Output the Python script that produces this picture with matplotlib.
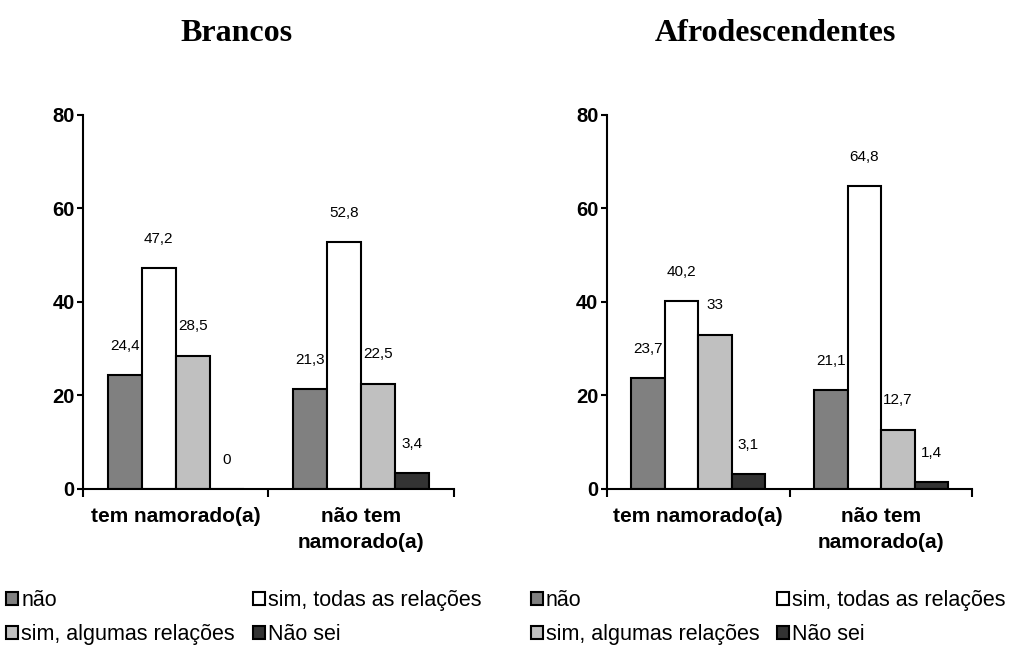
import matplotlib
matplotlib.use('Agg')
import matplotlib.pyplot as plt
import numpy as np

plt.rcParams['font.family'] = ['Liberation Sans', 'DejaVu Sans']

categories = ['tem namorado(a)', 'não tem\nnamorado(a)']
series = ['não', 'sim, todas as relações', 'sim, algumas relações', 'Não sei']
colors = ['#808080', '#ffffff', '#c0c0c0', '#333333']

brancos = [[24.4, 21.3], [47.2, 52.8], [28.5, 22.5], [0, 3.4]]
afro = [[23.7, 21.1], [40.2, 64.8], [33, 12.7], [3.1, 1.4]]

titles = ['Brancos', 'Afrodescendentes']
yticks = [0, 20, 40, 60, 80]

fig = plt.figure(figsize=(10.13, 6.45), dpi=100)
ax1 = fig.add_axes([0.082, 0.242, 0.366, 0.580])
ax2 = fig.add_axes([0.599, 0.242, 0.361, 0.580])

w = 0.183
x = np.arange(len(categories))


def fmt(v):
    s = ('%.1f' % v).replace('.', ',')
    return s[:-2] if s.endswith(',0') else s


def draw(ax, data):
    for i, vals in enumerate(data):
        bars = ax.bar(x + (i - 1.5) * w, vals, w, color=colors[i], edgecolor='black',
                      linewidth=1.5, label=series[i])
        for b, v in zip(bars, vals):
            ax.annotate(fmt(v), (b.get_x() + b.get_width() / 2, v), xytext=(0, 16),
                        textcoords='offset points', ha='center', va='bottom', fontsize=11)
    ax.set_xlim(-0.5, 1.5)
    ax.set_ylim(0, 80)
    ax.set_yticks(yticks)
    ax.set_yticklabels([str(t) for t in yticks], fontsize=14.5, fontweight='bold')
    ax.set_xticks([-0.5, 0.5, 1.5])
    ax.set_xticklabels([])
    ax.set_xticks(x, categories, minor=True, fontsize=15, fontweight='bold', linespacing=1.45)
    ax.tick_params(axis='x', which='major', direction='out', length=6, width=1.5)
    ax.tick_params(axis='x', which='minor', length=0, pad=13)
    ax.tick_params(axis='y', direction='out', length=4, width=1.5, pad=2)
    for s in ['top', 'right']:
        ax.spines[s].set_visible(False)
    for s in ['left', 'bottom']:
        ax.spines[s].set_linewidth(1.5)
    ax.patch.set_visible(False)


draw(ax1, brancos)
draw(ax2, afro)

fig.text(0.233, 0.948, titles[0], ha='center', va='center', fontsize=23,
         fontweight='bold', family='Liberation Serif')
fig.text(0.765, 0.948, titles[1], ha='center', va='center', fontsize=23,
         fontweight='bold', family='Liberation Serif')

# legends: two columns per chart, placed by hand
cols = [(0.006, [0, 2]), (0.250, [1, 3]), (0.524, [0, 2]), (0.767, [1, 3])]
for k, (xpos, idx) in enumerate(cols):
    ax = ax1 if k < 2 else ax2
    h, l = ax.get_legend_handles_labels()
    fig.legend([h[i] for i in idx], [l[i] for i in idx], loc='upper left',
               bbox_to_anchor=(xpos, 0.085), bbox_transform=fig.transFigure,
               frameon=False, fontsize=15.5, handlelength=0.55, handleheight=0.55,
               handletextpad=0.15, labelspacing=0.58, borderaxespad=0, borderpad=0)

fig.savefig('out.png', dpi=100)
